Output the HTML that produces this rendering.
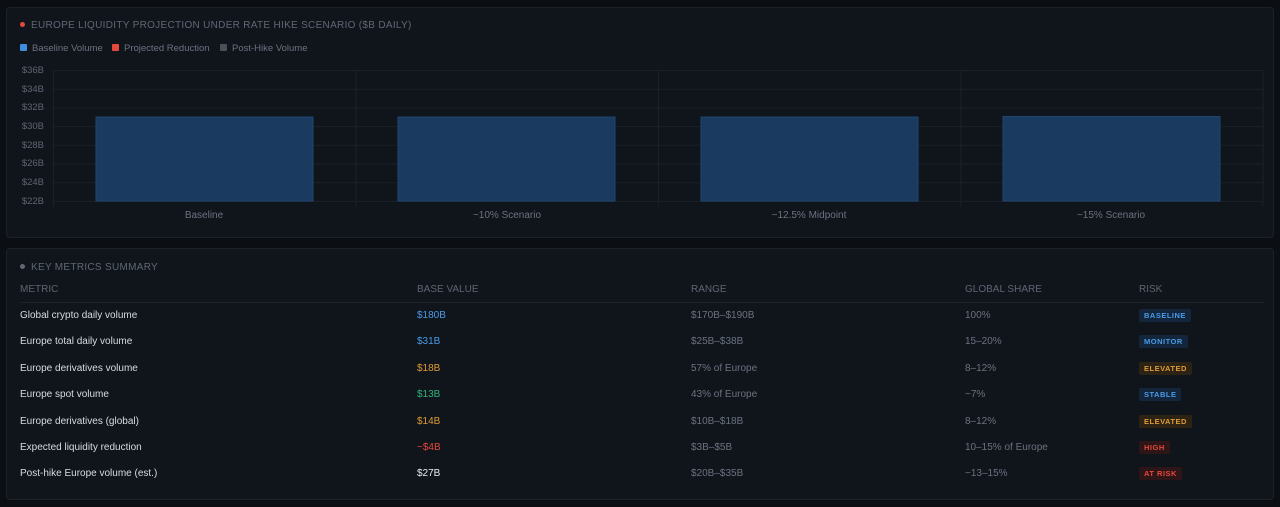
<!DOCTYPE html>
<html><head><style>
*{margin:0;padding:0;box-sizing:border-box}
body{width:1280px;height:507px;background:#0b0e13;font-family:"Liberation Sans",sans-serif;position:relative;overflow:hidden}
.panel{position:absolute;left:6px;width:1268px;background:#10141b;border:1px solid #1c212a;border-radius:4px}
.t{position:absolute;font-size:10px;color:#5f6875;letter-spacing:.3px;white-space:nowrap}
.dot{display:inline-block;width:5px;height:5px;border-radius:50%;margin-right:6px;vertical-align:1px}
.lg{position:absolute;top:43px;font-size:9.5px;color:#6b7380;white-space:nowrap}
.sq{display:inline-block;width:7px;height:7px;border-radius:1px;margin-right:5px;vertical-align:0}
.yl{position:absolute;left:14px;width:30px;text-align:right;font-size:9.5px;color:#5d6673}
.xl{position:absolute;top:210px;font-size:10px;color:#6b7380;text-align:center;width:200px}
.c{position:absolute;font-size:10px;white-space:nowrap}
.h{color:#5d6673;top:284px}
.badge{position:absolute;font-size:7.5px;font-weight:bold;letter-spacing:.5px;padding:2px 5px;border-radius:2px}
</style></head><body>
<div class="panel" style="top:7px;height:231px"></div>
<div class="panel" style="top:248px;height:252px"></div>
<div class="t" style="left:20px;top:20px"><span class="dot" style="background:#e5483c"></span>EUROPE LIQUIDITY PROJECTION UNDER RATE HIKE SCENARIO ($B DAILY)</div>
<div class="lg" style="left:20px"><span class="sq" style="background:#3d8de0"></span>Baseline Volume</div>
<div class="lg" style="left:112px"><span class="sq" style="background:#e5483c"></span>Projected Reduction</div>
<div class="lg" style="left:220px"><span class="sq" style="background:#4a505b"></span>Post-Hike Volume</div>
<svg style="position:absolute;left:0;top:0" width="1280" height="240">
<g stroke="#1b2028" stroke-width="1">
<line x1="53" y1="70.5" x2="1263" y2="70.5"/><line x1="53" y1="89.2" x2="1263" y2="89.2"/><line x1="53" y1="107.9" x2="1263" y2="107.9"/><line x1="53" y1="126.6" x2="1263" y2="126.6"/><line x1="53" y1="145.3" x2="1263" y2="145.3"/><line x1="53" y1="164" x2="1263" y2="164"/><line x1="53" y1="182.7" x2="1263" y2="182.7"/><line x1="53" y1="201.4" x2="1263" y2="201.4"/>
<line x1="53.5" y1="70" x2="53.5" y2="207"/><line x1="356" y1="70" x2="356" y2="207"/><line x1="658.5" y1="70" x2="658.5" y2="207"/><line x1="961" y1="70" x2="961" y2="207"/><line x1="1263" y1="70" x2="1263" y2="207"/>
</g>
<g fill="#1b3a60" stroke="#1f4670" stroke-width="1">
<rect x="96" y="117" width="217" height="84"/><rect x="398" y="117" width="217" height="84"/><rect x="701" y="117" width="217" height="84"/><rect x="1003" y="116.5" width="217" height="84.5"/>
</g>
</svg>
<div class="yl" style="top:65px">$36B</div><div class="yl" style="top:84px">$34B</div><div class="yl" style="top:102px">$32B</div><div class="yl" style="top:121px">$30B</div><div class="yl" style="top:140px">$28B</div><div class="yl" style="top:158px">$26B</div><div class="yl" style="top:177px">$24B</div><div class="yl" style="top:196px">$22B</div>
<div class="xl" style="left:104px">Baseline</div><div class="xl" style="left:407px">~10% Scenario</div><div class="xl" style="left:709px">~12.5% Midpoint</div><div class="xl" style="left:1011px">~15% Scenario</div>
<div class="t" style="left:20px;top:262px"><span class="dot" style="background:#5f6875"></span>KEY METRICS SUMMARY</div>
<div class="c h" style="left:20px">METRIC</div><div class="c h" style="left:417px">BASE VALUE</div><div class="c h" style="left:691px">RANGE</div><div class="c h" style="left:965px">GLOBAL SHARE</div><div class="c h" style="left:1139px">RISK</div>
<div style="position:absolute;left:20px;top:302px;width:1244px;height:1px;background:#1c212a"></div>
<div class="c" style="left:20px;top:310px;color:#d8dce2">Global crypto daily volume</div><div class="c" style="left:417px;top:310px;color:#4a9be8">$180B</div><div class="c" style="left:691px;top:310px;color:#6b7380">$170B–$190B</div><div class="c" style="left:965px;top:310px;color:#6b7380">100%</div><div class="badge" style="left:1139px;top:309px;color:#4a9be8;background:#13263c">BASELINE</div>
<div class="c" style="left:20px;top:336px;color:#d8dce2">Europe total daily volume</div><div class="c" style="left:417px;top:336px;color:#4a9be8">$31B</div><div class="c" style="left:691px;top:336px;color:#6b7380">$25B–$38B</div><div class="c" style="left:965px;top:336px;color:#6b7380">15–20%</div><div class="badge" style="left:1139px;top:335px;color:#4a9be8;background:#13263c">MONITOR</div>
<div class="c" style="left:20px;top:363px;color:#d8dce2">Europe derivatives volume</div><div class="c" style="left:417px;top:363px;color:#e09a35">$18B</div><div class="c" style="left:691px;top:363px;color:#6b7380">57% of Europe</div><div class="c" style="left:965px;top:363px;color:#6b7380">8–12%</div><div class="badge" style="left:1139px;top:362px;color:#e09a35;background:#2c2314">ELEVATED</div>
<div class="c" style="left:20px;top:389px;color:#d8dce2">Europe spot volume</div><div class="c" style="left:417px;top:389px;color:#2fb57d">$13B</div><div class="c" style="left:691px;top:389px;color:#6b7380">43% of Europe</div><div class="c" style="left:965px;top:389px;color:#6b7380">~7%</div><div class="badge" style="left:1139px;top:388px;color:#4a9be8;background:#13263c">STABLE</div>
<div class="c" style="left:20px;top:416px;color:#d8dce2">Europe derivatives (global)</div><div class="c" style="left:417px;top:416px;color:#e09a35">$14B</div><div class="c" style="left:691px;top:416px;color:#6b7380">$10B–$18B</div><div class="c" style="left:965px;top:416px;color:#6b7380">8–12%</div><div class="badge" style="left:1139px;top:415px;color:#e09a35;background:#2c2314">ELEVATED</div>
<div class="c" style="left:20px;top:442px;color:#d8dce2">Expected liquidity reduction</div><div class="c" style="left:417px;top:442px;color:#e5483c">−$4B</div><div class="c" style="left:691px;top:442px;color:#6b7380">$3B–$5B</div><div class="c" style="left:965px;top:442px;color:#6b7380">10–15% of Europe</div><div class="badge" style="left:1139px;top:441px;color:#e5483c;background:#2e1517">HIGH</div>
<div class="c" style="left:20px;top:468px;color:#d8dce2">Post-hike Europe volume (est.)</div><div class="c" style="left:417px;top:468px;color:#e8eaee">$27B</div><div class="c" style="left:691px;top:468px;color:#6b7380">$20B–$35B</div><div class="c" style="left:965px;top:468px;color:#6b7380">~13–15%</div><div class="badge" style="left:1139px;top:467px;color:#e5483c;background:#2e1517">AT RISK</div>
</body></html>
